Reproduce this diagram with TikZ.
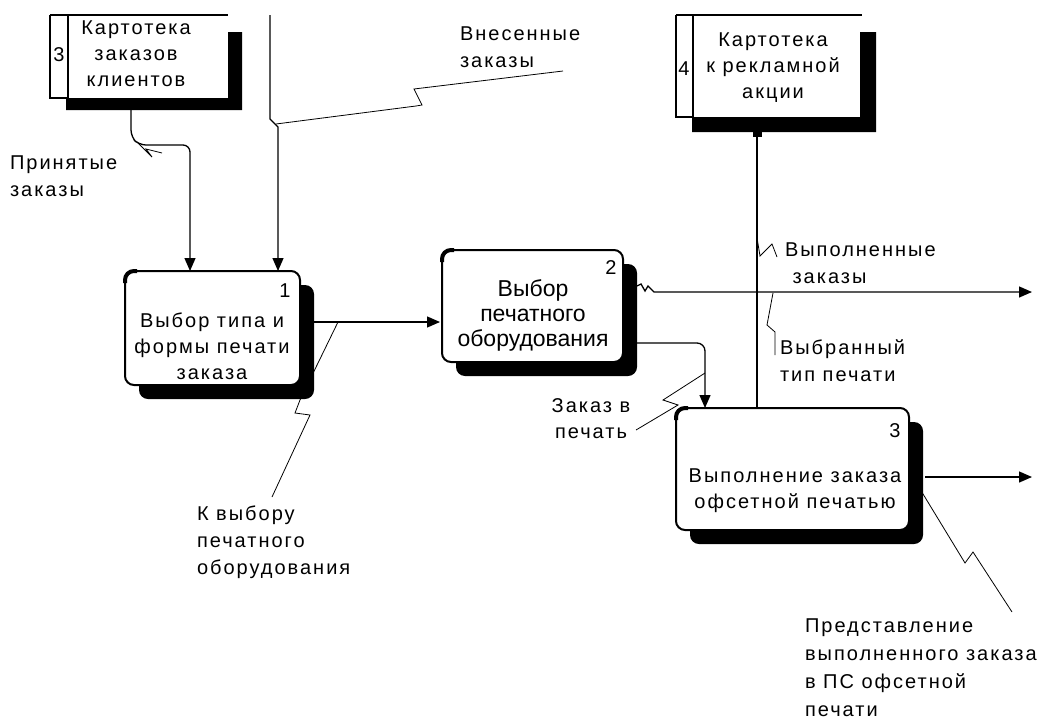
\documentclass[tikz,border=0pt]{standalone}
\usepackage{fontspec}
\setmainfont{Liberation Sans}
\newfontfamily\pix[LetterSpace=10]{Liberation Sans}
\usetikzlibrary{arrows.meta,calc,shadows}

\begin{document}
\begin{tikzpicture}[x=1pt,y=-1pt,
  every node/.style={inner sep=0pt, outer sep=0pt},
  lbl/.style={font=\pix\fontsize{20}{27}\selectfont, align=left, anchor=west},
  ctr/.style={font=\pix\fontsize{20}{26}\selectfont, align=center},
  num/.style={font=\pix\fontsize{20}{22}\selectfont},
  proc/.style={draw, line width=2pt, rounded corners=9pt, fill=white,
    drop shadow={shadow xshift=14pt, shadow yshift=-14pt, fill=black, opacity=1}},
  flow/.style={line width=1.3pt, -{Triangle[length=13pt,width=11pt]}},
  wire/.style={line width=1.3pt},
  squig/.style={line width=0.8pt},
  stline/.style={line width=2pt},
]
\useasboundingbox (0,0) rectangle (1043,720);

% ---------- connectors (drawn first, boxes sit on top) ----------
% store 3 -> process 1
\coordinate (s3out) at (131,110);
\draw[flow, rounded corners=7pt] (s3out) -- (131,137) -- (139,145) -- (190,145) -- (190,271);
\draw[squig] (137,142) -- (152,157) -- (146,149) -- (162,153);

% external input -> process 1
\coordinate (topin) at (270,15);
\draw[flow] (topin) -- (270,119) -- (278,127) -- (278,271);
\draw[squig] (563,71) -- (414,89) -- (422,105) -- (416,106) -- (276,124);

% process 1 -> process 2
\draw[flow] (313,322) -- (440,322);
\draw[squig] (338,322) -- (300,400) -- (295,413) -- (310,415) -- (272,497);

% process 2 -> outside
\coordinate (out1) at (1032,292);
\draw[flow] (637,286) -- (641,284) -- (645,291) -- (648,286) -- (654,292) -- (out1);

% process 2 -> process 3
\draw[flow, rounded corners=8pt] (630,343) -- (705,343) -- (705,408);
\draw[squig] (705,373) -- (663,400) -- (678,405) -- (636,430);

% process 3 -> store 4
\coordinate (s4in) at (757,134);
\draw[wire] (757,408) -- (s4in);
\fill (753,131) rectangle (762,137);
\draw[squig] (757,238) -- (760,256) -- (772,244) -- (777,257);
\draw[squig] (773,293) -- (767,325) -- (775,332) -- (775,355);

% process 3 -> outside
\coordinate (out2) at (1032,477);
\draw[flow] (925,477) -- (out2);
\draw[squig] (909,471) -- (965,563) -- (973,552) -- (1012,612);

% ---------- processes ----------
\node[proc, minimum width=175pt, minimum height=114pt] (b1) at (212.5,328) {};
\node[proc, minimum width=181pt, minimum height=112pt] (b2) at (532.5,306) {};
\node[proc, minimum width=233pt, minimum height=122pt] (b3) at (792.5,469) {};
\foreach \b in {b1,b2,b3}{
  \draw[line width=4pt, rounded corners=9pt]
    ($(\b.north west)+(0,12)$) -- (\b.north west) -- ($(\b.north west)+(12,0)$);
}

\node[num] (n1) at (285,291) {1};
\node[ctr] (t1) at (212,346) {Выбор типа и\\формы печати\\заказа};
\node[num] (n2) at (611,268) {2};
\node[font=\fontsize{23}{25}\selectfont, align=center] (t2) at (533,315) {Выбор\\печатного\\оборудования};
\node[num] (n3) at (895,431) {3};
\node[ctr] (t3) at (795,491) {Выполнение заказа\\офсетной печатью};

% ---------- data stores ----------
\fill (228,32) -- (242,32) -- (242,110) -- (66,110) -- (66,98) -- (228,98) -- cycle;
\draw[stline] (50,15) -- (228,15);
\draw[stline] (68,15) -- (68,98);
\draw[stline] (50,15) -- (50,98) -- (68,98);
\node[num] (d3n) at (59,55) {3};
\node[ctr] (d3) at (136,54) {Картотека\\заказов\\клиентов};

\fill (860,32) -- (876,32) -- (876,132) -- (692,132) -- (692,117) -- (860,117) -- cycle;
\draw[stline] (676,15) -- (862,15);
\draw[stline] (693,15) -- (693,117);
\draw[stline] (676,15) -- (676,117) -- (693,117);
\node[num] (d4n) at (684,69) {4};
\node[ctr] (d4) at (773,68) {Картотека\\к рекламной\\акции};

% ---------- flow labels ----------
\node[lbl] (l1) at (10,176) {Принятые\\заказы};
\node[lbl] (l2) at (460,47) {Внесенные\\заказы};
\node[lbl] (l3) at (197,542) {К выбору\\печатного\\оборудования};
\node[lbl] (l4) at (785,263) {Выполненные\\\ заказы};
\node[lbl] (l5) at (780,361) {Выбранный\\тип печати};
\node[ctr] (l6) at (591,419) {Заказ в\\печать};
\node[lbl, font=\pix\fontsize{20}{28}\selectfont] (l7) at (805,668) {Представление\\выполненного заказа\\в ПС офсетной\\печати};
\end{tikzpicture}
\end{document}
